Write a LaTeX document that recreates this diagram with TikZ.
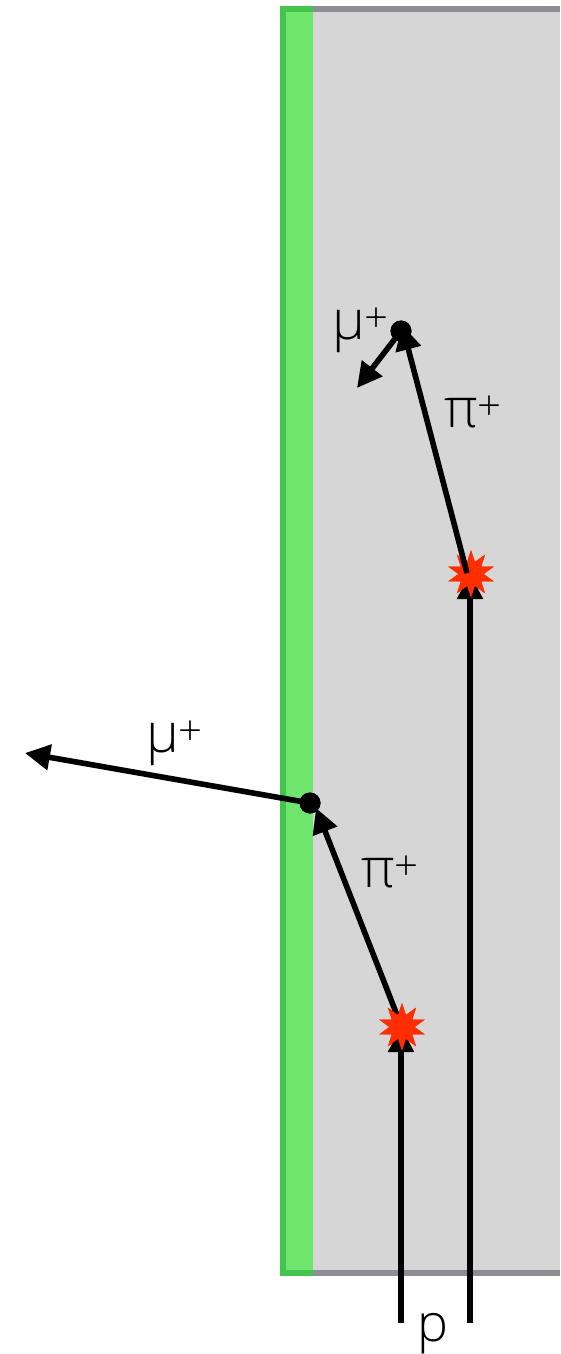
\documentclass[tikz,border=0pt]{standalone}
\usepackage{fontspec}
\setmainfont{Open Sans Light}
\usetikzlibrary{arrows.meta,shapes.geometric}
\definecolor{panelfill}{HTML}{D6D6D6}
\definecolor{panelline}{HTML}{8E8E92}
\definecolor{greenfill}{HTML}{6EE66E}
\definecolor{greenline}{HTML}{45C44D}
\definecolor{burst}{HTML}{FF2E00}
\newcommand{\plussign}{\raisebox{7pt}{\fontsize{42}{42}\selectfont +}}
\tikzset{
  x=1pt,y=-1pt,
  track/.style={line width=5.6pt,draw=black,-{Triangle[length=25pt,width=25pt]}},
  burststar/.style={star,star points=10,star point ratio=1.9,fill=burst,draw=none,minimum size=48pt,inner sep=0pt},
  dotnode/.style={circle,fill=black,draw=none,minimum size=21pt,inner sep=0pt},
  lab/.style={anchor=base west,inner sep=0pt,outer sep=0pt,font=\fontsize{55}{55}\selectfont},
  plab/.style={anchor=base west,inner sep=0pt,outer sep=0pt,font=\fontsize{52}{52}\selectfont}
}
\begin{document}
\begin{tikzpicture}
\useasboundingbox (0,0) rectangle (560,1354);
\fill[white] (0,0) rectangle (560,1354);
% panel
\fill[panelline] (283,6) rectangle (560,1276);
\fill[panelfill] (313,12) rectangle (560,1270);
% green strip
\fill[greenline] (280,6) rectangle (313,1276);
\fill[greenfill] (286,12) rectangle (313,1270);
% anchors
\coordinate (pA) at (401,1323);
\coordinate (pB) at (470,1323);
\coordinate (piAs) at (397,1015);
\coordinate (piAe) at (316,808);
\coordinate (piBs) at (467,573);
\coordinate (piBe) at (402,325);
\coordinate (muAe) at (25,753);
\coordinate (muBe) at (357,388);
\coordinate (pAe) at (401,1027);
\coordinate (pBe) at (470,574);
\node[burststar] (sA) at (402,1027) {};
\node[burststar] (sB) at (471,574) {};
\node[dotnode] (dA) at (310,803) {};
\node[dotnode] (dB) at (401,331) {};
% connectors
\draw[track] (dB.center) -- (muBe);
\draw[track] (dA.center) -- (muAe);
\draw[track] (piAs) -- (piAe);
\draw[track] (pA) -- (pAe);
\draw[track] (pB) -- (pBe);
\node[burststar] (sA2) at (sA.center) {};
\node[burststar] (sB2) at (sB.center) {};
\draw[track] (piBs) -- (piBe);
\node[dotnode] (dA2) at (dA.center) {};
\node[dotnode] (dB2) at (dB.center) {};
% labels
\node[lab] (l1) at (332,339) {μ\plussign};
\node[lab] (l2) at (444,427) {π\plussign};
\node[lab] (l3) at (361,887) {π\plussign};
\node[lab] (l4) at (146,752) {μ\plussign};
\node[plab] (l5) at (417,1341) {p};
\end{tikzpicture}
\end{document}
